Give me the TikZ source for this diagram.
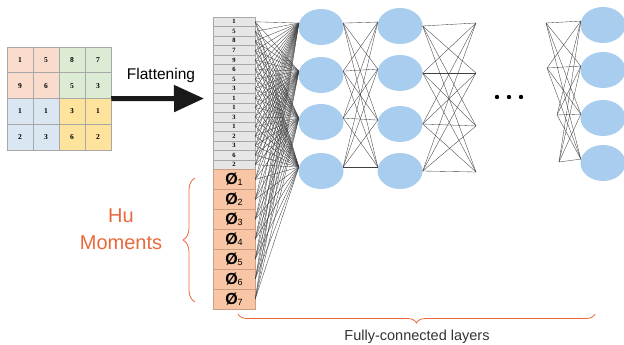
\documentclass[tikz,border=0pt]{standalone}
\usepackage{fontspec}
\setmainfont{Liberation Sans}
\newfontfamily\digitfont{Liberation Serif}
\usetikzlibrary{arrows.meta,calc,shapes.geometric,decorations.pathreplacing}
\definecolor{cellpeach}{HTML}{F9DCCB}
\definecolor{cellgreen}{HTML}{DCEBD4}
\definecolor{cellblue}{HTML}{DAE6F2}
\definecolor{cellyellow}{HTML}{FDE39C}
\definecolor{gridline}{HTML}{A8A8A8}
\definecolor{flatgray}{HTML}{E6E6E6}
\definecolor{huorange}{HTML}{F8C6A4}
\definecolor{huborder}{HTML}{C9A086}
\definecolor{neuron}{HTML}{A9CDEE}
\definecolor{accent}{HTML}{E8693C}

\begin{document}
\begin{tikzpicture}[x=1pt, y=-1pt,
  gridcell/.style={draw=gridline, line width=0.5pt, minimum width=26pt, minimum height=25.75pt,
    inner sep=0pt, font=\digitfont\bfseries\fontsize{7.5}{8}\selectfont},
  flatcell/.style={draw=gridline, fill=flatgray, line width=0.5pt, minimum width=42pt, minimum height=9.53pt,
    inner sep=0pt, font=\digitfont\bfseries\fontsize{6.5}{7}\selectfont},
  hucell/.style={draw=huborder, fill=huorange, line width=0.5pt, minimum width=42pt, minimum height=19.93pt,
    inner sep=0pt},
  unit/.style={ellipse, fill=neuron, draw=none, minimum width=45pt, minimum height=36pt},
  link/.style={draw=black!75, line width=0.35pt},
  flatarrow/.style={draw=black!90, line width=5pt, -{Triangle[length=30pt, width=26pt]}},
  bracket/.style={draw=accent, line width=0.8pt, decorate}]

  \useasboundingbox (0,0) rectangle (624,345);

  % Input patch, 4x4
  \foreach \r/\vals/\lc/\rc in {1/{1,5,8,7}/cellpeach/cellgreen, 2/{9,6,5,3}/cellpeach/cellgreen,
                                3/{1,1,3,1}/cellblue/cellyellow, 4/{2,3,6,2}/cellblue/cellyellow} {
    \foreach \v [count=\c] in \vals {
      \ifnum\c<3 \def\fc{\lc}\else\def\fc{\rc}\fi
      \node[gridcell, fill=\fc] (g-\r-\c) at (-6+26*\c, 34.1+25.75*\r) {\v};
    }
  }

  % Flattened column + Hu moment invariants
  \foreach \v [count=\i] in {1,5,8,7,9,6,5,3,1,1,3,1,2,3,6,2}
    \node[flatcell] (f\i) at (234, 12.24+9.53*\i) {\v};
  \foreach \i in {1,...,7}
    \node[hucell] (h\i) at (234, 159.5+19.93*\i)
      {{\bfseries\fontsize{16}{16}\selectfont Ø}{\fontsize{9}{9}\selectfont\raisebox{-1.5pt}{\i}}};

  % Hidden layers
  \foreach \y [count=\i] in {27,75,122,171}
    \node[unit] (l1-\i) at (321,\y) {};
  \foreach \y [count=\i] in {26,73,124,171}
    \node[unit] (l2-\i) at (400,\y) {};
  \foreach \y [count=\i] in {25,70,118,163}
    \node[unit] (l4-\i) at (603,\y) {};
  \foreach \y [count=\i] in {23,73,126,172}
    \coordinate (p\i) at (476,\y);
  \foreach \x/\y [count=\i] in {546/23, 547/68, 557/115, 559/162}
    \coordinate (q\i) at (\x,\y);

  % Fully-connected links
  \foreach \j in {1,...,4} {
    \foreach \i in {1,...,16}
      \draw[link] (f\i.east) -- (l1-\j.170);
    \foreach \i in {1,...,7}
      \draw[link] (h\i.east) -- (l1-\j.170);
    \foreach \i in {1,...,4} {
      \draw[link] (l1-\i.10) -- (l2-\j.170);
      \draw[link] (l2-\i.east) -- (p\j);
      \draw[link] (q\i) -- (l4-\j.170);
    }
  }

  \foreach \x in {497,509,521}
    \fill (\x,97) circle (2.2);

  % Flattening step
  \coordinate (flat-tip) at (204,98.5);
  \draw[flatarrow] (g-2-4.south east) -- (flat-tip);
  \node[font=\fontsize{15.5}{18}\selectfont] (flat-label) at (161,75) {Flattening};

  % Braces and labels
  \draw[bracket, decoration={brace, amplitude=12pt}] (195,302) -- (195,178);
  \node[align=center, text=accent, font=\fontsize{20}{27}\selectfont] (hu-label) at (121,229) {Hu\\Moments};
  \draw[bracket, decoration={brace, amplitude=9pt}] (595,314) -- (238,314);
  \node[text=black!80, font=\fontsize{14.5}{17}\selectfont] (fc-label) at (417,337) {Fully-connected layers};

\end{tikzpicture}
\end{document}
